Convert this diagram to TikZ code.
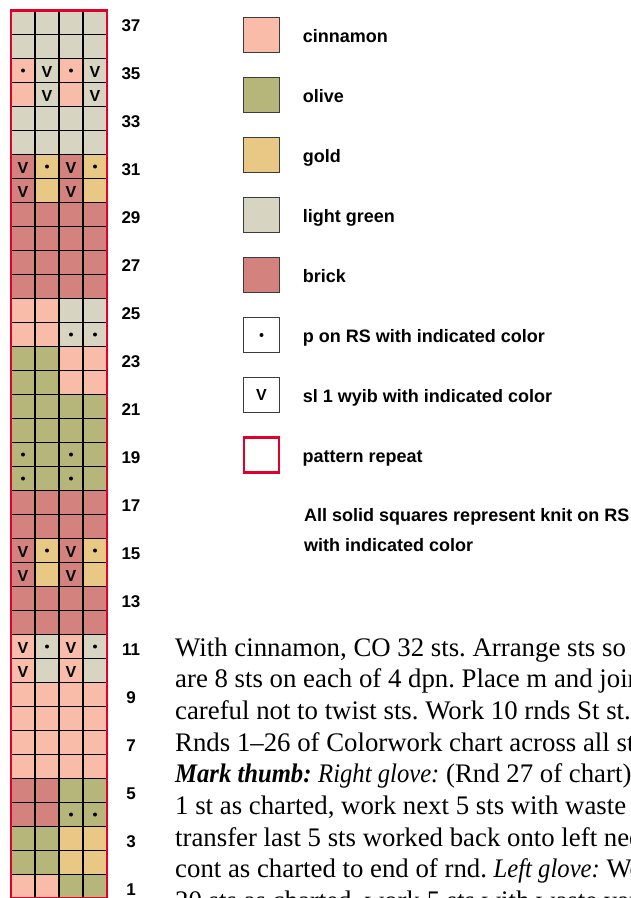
\documentclass[tikz,border=0pt]{standalone}
\usepackage{fontspec}
\setmainfont{Liberation Sans}
\newfontfamily\bodyfont{Liberation Serif}[ItalicFeatures={FakeStretch=0.92}, BoldItalicFeatures={FakeStretch=0.92}]
\usepackage{tikz}
\usetikzlibrary{positioning}
\frenchspacing

\definecolor{cinnamon}{RGB}{249,188,168}
\definecolor{oliveyarn}{RGB}{182,181,122}
\definecolor{goldyarn}{RGB}{233,200,134}
\definecolor{lightgreen}{RGB}{215,213,193}
\definecolor{brick}{RGB}{211,130,126}
\definecolor{repeatred}{RGB}{226,0,42}
\definecolor{keygray}{RGB}{60,60,60}

\begin{document}
\begin{tikzpicture}[x=1pt, y=-1pt, node distance=23.5pt,
    cell/.style={draw=black, line width=1.2pt, minimum size=24pt, inner sep=0pt, outer sep=0pt},
    C/.style={cell, fill=cinnamon}, O/.style={cell, fill=oliveyarn}, G/.style={cell, fill=goldyarn},
    L/.style={cell, fill=lightgreen}, B/.style={cell, fill=brick},
    dt/.style={path picture={\fill[black] (path picture bounding box.center) circle (2pt);}},
    sl/.style={label={[inner sep=0pt, yshift=-1pt, font=\fontsize{16}{16}\selectfont\bfseries]center:V}},
    Cd/.style={C, dt}, Cv/.style={C, sl}, Ld/.style={L, dt}, Lv/.style={L, sl},
    Bv/.style={B, sl}, Gd/.style={G, dt}, Od/.style={O, dt},
    rownum/.style={anchor=base, font=\fontsize{17}{17}\selectfont\bfseries},
    keybox/.style={draw=keygray, line width=1.3pt, minimum size=35.5pt, inner sep=0pt, outer sep=0pt, on grid, node distance=60pt},
    keytext/.style={inner sep=0pt, text height=14pt, text depth=0pt, font=\fontsize{18}{18}\selectfont\bfseries},
    note/.style={anchor=base west, inner sep=0pt, font=\fontsize{18}{18}\selectfont\bfseries},
    bodyline/.style={anchor=base west, inner sep=0pt, font=\fontsize{26.8}{31.7}\selectfont\bodyfont},
    repeatline/.style={draw=repeatred, line width=2.5pt}]

    \useasboundingbox (0,0) rectangle (631,898);
    \clip (0,0) rectangle (631,898);

    \foreach \r/\ca/\cb/\cc/\cd [count=\i from 0] in {37/L/L/L/L, 36/L/L/L/L, 35/Cd/Lv/Cd/Lv, 34/C/Lv/C/Lv,
        33/L/L/L/L, 32/L/L/L/L, 31/Bv/Gd/Bv/Gd, 30/Bv/G/Bv/G, 29/B/B/B/B, 28/B/B/B/B, 27/B/B/B/B,
        26/B/B/B/B, 25/C/C/L/L, 24/C/C/Ld/Ld, 23/O/O/C/C, 22/O/O/C/C, 21/O/O/O/O, 20/O/O/O/O,
        19/Od/O/Od/O, 18/Od/O/Od/O, 17/B/B/B/B, 16/B/B/B/B, 15/Bv/Gd/Bv/Gd, 14/Bv/G/Bv/G,
        13/B/B/B/B, 12/B/B/B/B, 11/Cv/Ld/Cv/Ld, 10/Cv/L/Cv/L, 9/C/C/C/C, 8/C/C/C/C, 7/C/C/C/C,
        6/C/C/C/C, 5/B/B/O/O, 4/B/B/Od/Od, 3/O/O/G/G, 2/O/O/G/G, 1/C/C/O/O} {
        \node[\ca] (r\r-1) at (23, {22.5+24*\i}) {};
        \node[\cb] (r\r-2) at (47, {22.5+24*\i}) {};
        \node[\cc] (r\r-3) at (71, {22.5+24*\i}) {};
        \node[\cd] (r\r-4) at (95, {22.5+24*\i}) {};
    }
    \draw[repeatline] (r37-1.north west) rectangle (r1-4.south east);

    \foreach \r in {1,3,...,37}
        \node[rownum] (n\r) at (131, {31.5+24*(37-\r)}) {\r};

    \node[keybox, fill=cinnamon] (kcin) at (261.5, 35) {};
    \node[keybox, fill=oliveyarn, below=of kcin] (koli) {};
    \node[keybox, fill=goldyarn, below=of koli] (kgold) {};
    \node[keybox, fill=lightgreen, below=of kgold] (klgr) {};
    \node[keybox, fill=brick, below=of klgr] (kbri) {};
    \node[keybox, dt, below=of kbri] (kdot) {};
    \node[keybox, below=of kdot, font=\fontsize{16}{16}\selectfont\bfseries] (kvee) {V};
    \node[keybox, repeatline, minimum size=35pt, below=of kvee] (krep) {};

    \node[keytext, right=of kcin] (tcin) {cinnamon};
    \node[keytext, right=of koli] (toli) {olive};
    \node[keytext, right=of kgold] (tgold) {gold};
    \node[keytext, right=of klgr] (tlgr) {light green};
    \node[keytext, right=of kbri] (tbri) {brick};
    \node[keytext, right=of kdot] (tdot) {p on RS with indicated color};
    \node[keytext, right=of kvee] (tvee) {sl 1 wyib with indicated color};
    \node[keytext, right=of krep] (trep) {pattern repeat};

    \node[note] (note1) at (304, 521.7) {All solid squares represent knit on RS};
    \node[note] (note2) at (304, 551.7) {with indicated color};

    \foreach \txt [count=\n from 0] in {
        {With cinnamon, CO 32 sts. Arrange sts so there},
        {are 8 sts on each of 4 dpn. Place m and join, being},
        {careful not to twist sts. Work 10 rnds St st. Work},
        {Rnds 1–26 of Colorwork chart across all sts.},
        {\textbf{\textit{Mark thumb:}} \textit{Right glove:} (Rnd 27 of chart) Work},
        {1 st as charted, work next 5 sts with waste yarn,},
        {transfer last 5 sts worked back onto left needle,},
        {cont as charted to end of rnd. \textit{Left glove:} Work},
        {20 sts as charted, work 5 sts with waste yarn,}}
        \node[bodyline] (t\n) at (175, {656+31.7*\n}) {\txt};
\end{tikzpicture}
\end{document}
